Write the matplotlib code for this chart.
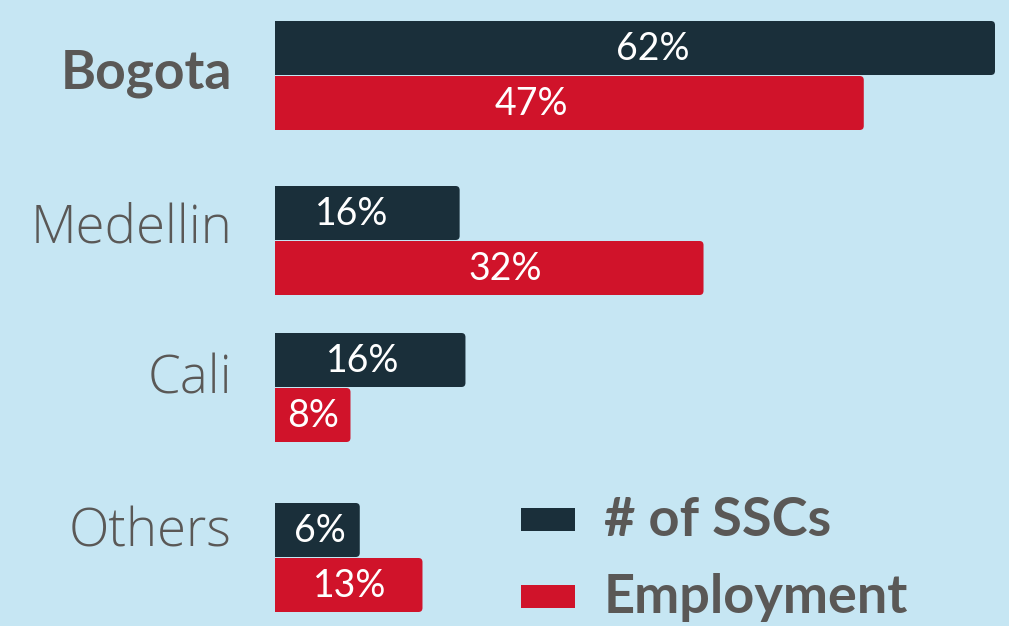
import matplotlib.pyplot as plt
from matplotlib.patches import FancyBboxPatch, Rectangle

cities = ['Bogota', 'Medellin', 'Cali', 'Others']
ssc_labels = ['62%', '16%', '16%', '6%']
emp_labels = ['47%', '32%', '8%', '13%']
# bar lengths as drawn in the picture (not exactly proportional to the labels)
ssc_len = [62, 15.9, 16.4, 7.3]
emp_len = [50.7, 36.9, 6.5, 12.7]
series = ['# of SSCs', 'Employment']

bg = '#C6E6F3'
navy = '#1A2F3A'
red = '#D0132A'
grey = '#5A5856'

plt.rcParams['font.family'] = ['Lato', 'DejaVu Sans']

W, H = 1009, 626
x0 = 275                # pixel where bars start
s = 720 / 62            # pixels per percentage unit
group_y = [75, 240, 387, 557]   # boundary between the two bars of each group (pixels)
name_y = [73, 229, 380, 533]
ssc_lx = [653, 352, 363, 320]   # label centres (pixels)
emp_lx = [531, 505, 313, 350]
bh = 54

fig = plt.figure(figsize=(W / 100, H / 100), dpi=100, facecolor=bg)
ax = fig.add_axes([0, 0, 1, 1])
ax.set_facecolor(bg)
ax.set_xlim(-x0 / s, (W - x0) / s)
ax.set_ylim(H, 0)
ax.axis('off')


def px(x):
    return (x - x0) / s


def rbar(y, w, color):
    r = 0.35
    ax.add_patch(Rectangle((0, y), w - r * 2, bh, facecolor=color, edgecolor='none'))
    ax.add_patch(FancyBboxPatch((0, y), w, bh, boxstyle='round,pad=0,rounding_size=%g' % r,
                                mutation_aspect=s, facecolor=color, edgecolor='none'))


for i, c in enumerate(cities):
    gy = group_y[i]
    rbar(gy - bh, ssc_len[i], navy)
    rbar(gy + 1, emp_len[i], red)
    ax.text(px(ssc_lx[i]), gy - bh / 2 + 1, ssc_labels[i], color='white', fontsize=27,
            ha='center', va='center')
    ax.text(px(emp_lx[i]), gy + 1 + bh / 2 + 1, emp_labels[i], color='white', fontsize=27,
            ha='center', va='center')
    if i == 0:
        ax.text(px(232), name_y[i], c, color=grey, fontsize=38.5, ha='right',
                va='center', fontweight='bold')
    else:
        ax.text(px(232), name_y[i], c, color=grey, fontsize=38, ha='right',
                va='center', fontweight='light', family=['Open Sans', 'DejaVu Sans'])

# legend
leg_y = [519, 596]
for k, (name, col) in enumerate(zip(series, [navy, red])):
    ax.add_patch(Rectangle((px(521), leg_y[k] - 11), 54 / s, 23, facecolor=col, edgecolor='none'))
    ax.text(px(604), leg_y[k] + 2, name, color=grey, fontsize=39, fontweight='bold',
            ha='left', va='center')

fig.savefig('out.png', dpi=100, facecolor=bg)
